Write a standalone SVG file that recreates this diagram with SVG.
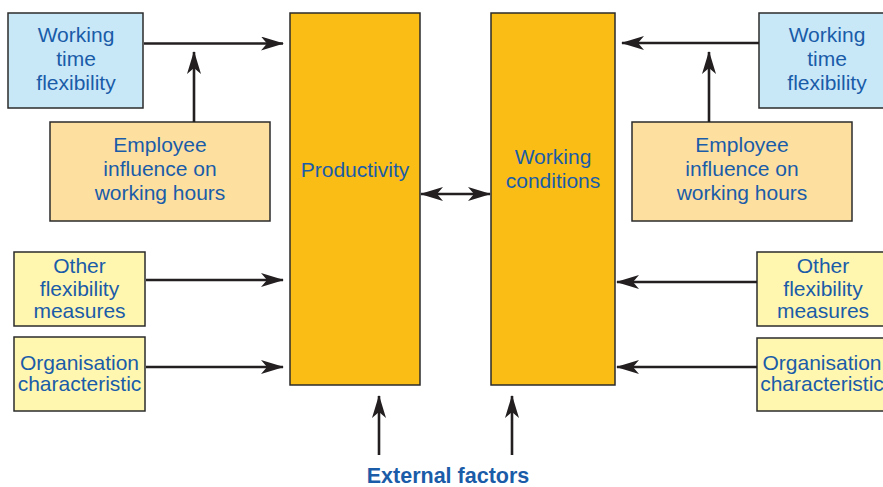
<svg xmlns="http://www.w3.org/2000/svg" width="883" height="487" viewBox="0 0 883 487">
<style>
.box{stroke:#2b2b2b;stroke-width:1.5}
.blue{fill:#c8e8f8}
.peach{fill:#fde0a0}
.yel{fill:#fff6b0}
.gold{fill:#f9bd15}
text{font-family:"Liberation Sans",Arial,sans-serif;font-size:21px;fill:#1a5ca8;text-anchor:middle}
.bold{font-weight:bold;font-size:21.5px}
.con line{stroke:#231f20;stroke-width:2.6;fill:none;marker-end:url(#ah)}
</style>
<defs>
<marker id="ah" viewBox="0 0 23 14" refX="22" refY="7" markerWidth="23" markerHeight="14" markerUnits="userSpaceOnUse" orient="auto-start-reverse">
<path d="M0,0 L23,7 L0,14 L6,7 z" fill="#231f20"/>
</marker>
</defs>
<rect width="883" height="487" fill="#fff"/>
<g id="wtf-left"><rect class="box blue" x="8" y="13" width="135" height="95"/><text x="76" y="42">Working</text><text x="76" y="66">time</text><text x="76" y="90">flexibility</text></g>
<g id="emp-left"><rect class="box peach" x="50" y="122" width="220" height="99"/><text x="160" y="152">Employee</text><text x="160" y="176">influence on</text><text x="160" y="200">working hours</text></g>
<g id="other-left"><rect class="box yel" x="14" y="252" width="131" height="74"/><text x="79.5" y="273">Other</text><text x="79.5" y="296">flexibility</text><text x="79.5" y="318">measures</text></g>
<g id="org-left"><rect class="box yel" x="14" y="337" width="131" height="74"/><text x="79.5" y="370">Organisation</text><text x="79.5" y="391">characteristic</text></g>
<g id="productivity"><rect class="box gold" x="290" y="13" width="130" height="372"/><text x="355" y="177">Productivity</text></g>
<g id="working-conditions"><rect class="box gold" x="491" y="13" width="124" height="372"/><text x="553" y="164">Working</text><text x="553" y="188">conditions</text></g>
<g id="wtf-right"><rect class="box blue" x="759" y="13" width="135" height="95"/><text x="827" y="42">Working</text><text x="827" y="66">time</text><text x="827" y="90">flexibility</text></g>
<g id="emp-right"><rect class="box peach" x="632" y="122" width="220" height="99"/><text x="742" y="152">Employee</text><text x="742" y="176">influence on</text><text x="742" y="200">working hours</text></g>
<g id="other-right"><rect class="box yel" x="757" y="252" width="131" height="74"/><text x="823" y="273">Other</text><text x="823" y="296">flexibility</text><text x="823" y="318">measures</text></g>
<g id="org-right"><rect class="box yel" x="757" y="338" width="131" height="73"/><text x="822" y="370">Organisation</text><text x="822" y="391">characteristic</text></g>
<g id="external"><text class="bold" x="448" y="483">External factors</text></g>
<g id="connectors" class="con">
<line x1="144" y1="43.5" x2="283" y2="43.5"/>
<line x1="194" y1="122" x2="194" y2="52"/>
<line x1="146" y1="280" x2="283" y2="280"/>
<line x1="146" y1="367" x2="283" y2="367"/>
<line x1="759" y1="43" x2="622" y2="43"/>
<line x1="709" y1="122" x2="709" y2="52"/>
<line x1="757" y1="282" x2="617" y2="282"/>
<line x1="757" y1="367" x2="617" y2="367"/>
<line x1="421" y1="194" x2="490" y2="194" style="marker-start:url(#ah)"/>
<line x1="379" y1="455" x2="379" y2="396"/>
<line x1="512" y1="455" x2="512" y2="396"/>
</g>
</svg>
